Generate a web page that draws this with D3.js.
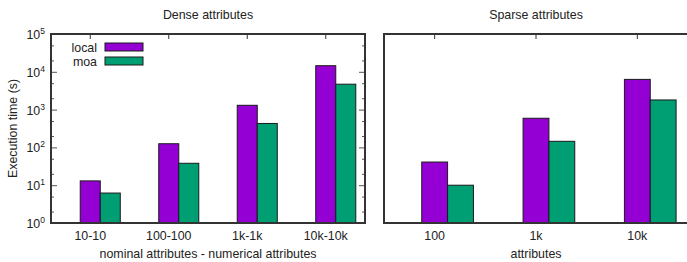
<!DOCTYPE html>
<html>
<head>
<meta charset="utf-8">
<script src="https://cdnjs.cloudflare.com/ajax/libs/d3/7.8.5/d3.min.js"></script>
<style>
  body { margin: 0; background: #fff; }
  text { font-family: "Liberation Sans", Arial, sans-serif; fill: #222; }
</style>
</head>
<body>
<script>
// values (seconds)
var denseCats = ["10-10", "100-100", "1k-1k", "10k-10k"];
var denseLocal = [13, 125, 1300, 14500];
var denseMoa = [6.2, 38, 430, 4700];

var sparseCats = ["100", "1k", "10k"];
var sparseLocal = [41, 590, 6300];
var sparseMoa = [10, 145, 1800];

var seriesNames = ["local", "moa"];
var colors = ["#9400d3", "#009e73"];
var yMajor = [1, 10, 100, 1000, 10000, 100000];

var W = 687, H = 262, FS = 12.4;
var svg = d3.select("body").append("svg").attr("width", W).attr("height", H);

var y = d3.scaleLog().domain([1, 1e5]).range([223, 34]);

var yMinor = [];
yMajor.slice(0, -1).forEach(function(m) { yMinor.push(m * 2, m * 5); });

function panel(cats, local, moa, x0, x1, title, xlabel, showY) {
  var x = d3.scaleBand().domain(cats).range([x0, x1]);
  var bw = x.bandwidth() * 0.255;
  var g = svg.append("g");
  var cx = function(c) { return x(c) + x.bandwidth() / 2; };

  var rows = cats.map(function(c, i) { return {c: c, v: [local[i], moa[i]]}; });
  rows.forEach(function(r) {
    g.selectAll(null).data(r.v).enter().append("rect")
      .attr("x", function(d, j) { return cx(r.c) - bw / 2 + j * bw; })
      .attr("width", bw)
      .attr("y", function(d) { return y(d); })
      .attr("height", function(d) { return y(1) - y(d); })
      .attr("fill", function(d, j) { return colors[j]; })
      .attr("stroke", "#1a1a1a").attr("stroke-width", 1);
  });

  // top mirror ticks
  g.append("g").attr("transform", "translate(0," + y(1e5) + ")")
    .call(d3.axisTop(x).tickSize(-5).tickFormat(""))
    .call(function(s) { s.select(".domain").remove(); s.selectAll("line").attr("stroke", "#333"); });

  // category labels
  g.selectAll(null).data(cats).enter().append("text")
    .attr("x", cx).attr("y", 240).attr("text-anchor", "middle")
    .attr("font-size", FS).text(function(d) { return d; });

  if (showY) {
    [[d3.axisLeft, x0], [d3.axisRight, x1]].forEach(function(a) {
      g.append("g").attr("transform", "translate(" + a[1] + ",0)")
        .call(a[0](y).tickValues(yMajor).tickSize(-6).tickFormat(""))
        .call(function(s) { s.select(".domain").remove(); s.selectAll("line").attr("stroke", "#555"); });
      g.append("g").attr("transform", "translate(" + a[1] + ",0)")
        .call(a[0](y).tickValues(yMinor).tickSize(-3).tickFormat(""))
        .call(function(s) { s.select(".domain").remove(); s.selectAll("line").attr("stroke", "#555"); });
    });
    var lab = g.selectAll(null).data(yMajor).enter().append("text")
      .attr("x", x0 - 6).attr("y", function(d) { return y(d) + 5; })
      .attr("text-anchor", "end").attr("font-size", FS);
    lab.append("tspan").text("10");
    lab.append("tspan").attr("dy", -5).attr("font-size", 8.5)
      .text(function(d) { return Math.round(Math.log10(d)); });
  }

  g.append("rect").attr("x", x0).attr("y", y(1e5)).attr("width", x1 - x0)
    .attr("height", y(1) - y(1e5)).attr("fill", "none")
    .attr("stroke", "#333").attr("stroke-width", 2);

  g.append("text").attr("x", (x0 + x1) / 2).attr("y", 19).attr("text-anchor", "middle")
    .attr("font-size", FS).text(title);
  g.append("text").attr("x", (x0 + x1) / 2).attr("y", 258).attr("text-anchor", "middle")
    .attr("font-size", FS).text(xlabel);
}

panel(denseCats, denseLocal, denseMoa, 51, 365, "Dense attributes",
  "nominal attributes - numerical attributes", true);
panel(sparseCats, sparseLocal, sparseMoa, 384, 688, "Sparse attributes", "attributes", false);

svg.append("text").attr("transform", "translate(17," + (y(1) + y(1e5)) / 2 + ") rotate(-90)")
  .attr("text-anchor", "middle").attr("font-size", FS).text("Execution time (s)");

// legend
var leg = svg.append("g").selectAll(null).data(seriesNames).enter().append("g")
  .attr("transform", function(d, i) { return "translate(0," + (47 + i * 14) + ")"; });
leg.append("text").attr("x", 97).attr("y", 4.5).attr("text-anchor", "end")
  .attr("font-size", FS).text(function(d) { return d; });
leg.append("rect").attr("x", 105).attr("y", -4).attr("width", 38).attr("height", 8)
  .attr("fill", function(d, i) { return colors[i]; })
  .attr("stroke", "#1a1a1a").attr("stroke-width", 1);
</script>
</body>
</html>
